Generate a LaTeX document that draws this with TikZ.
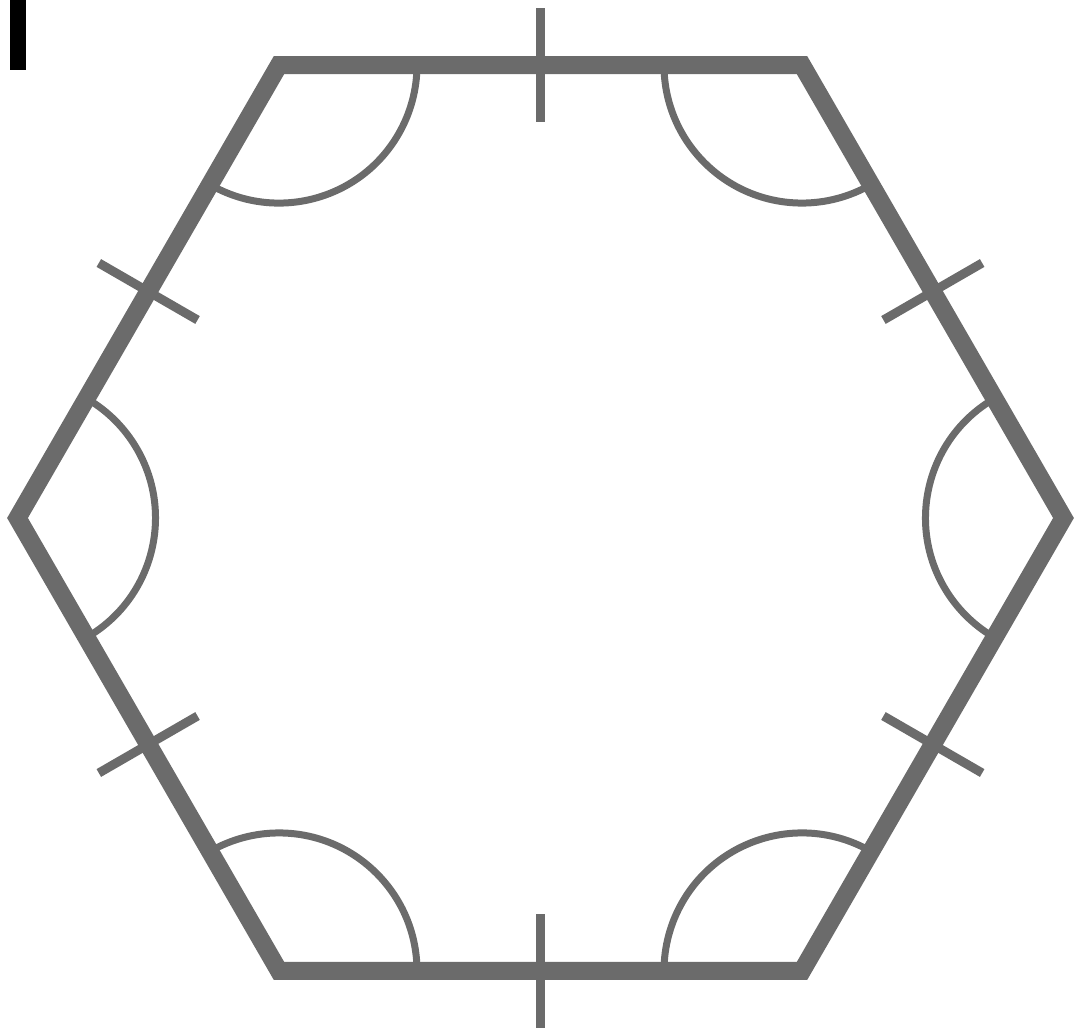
\documentclass[tikz,border=0pt]{standalone}
\definecolor{hexgray}{RGB}{107,107,107}
\tikzset{
  hexside/.style={draw=hexgray, line width=18pt, line join=miter},
  anglearc/.style={draw=hexgray, line width=7pt},
  tickmark/.style={draw=hexgray, line width=9pt},
}
\begin{document}
\begin{tikzpicture}[x=1pt,y=1pt]
  \useasboundingbox (-540.5,-511) rectangle (533.5,518);
  \clip (-540.5,-511) rectangle (533.5,518);
  % black bar at top-left
  \fill[black] (-530.5,448) rectangle (-514.5,518);
  % vertices
  \foreach \k in {0,...,5} {\coordinate (v\k) at ({60*\k}:523);}
  % angle arcs
  \foreach \a in {0,60,...,300} {
    \draw[anglearc] ([shift={(\a:523)}]{\a+120}:138) arc[start angle={\a+120}, end angle={\a+240}, radius=138];
  }
  % tick marks
  \foreach \a in {30,90,...,330} {
    \draw[tickmark] (\a:396) -- (\a:510);
  }
  % hexagon
  \draw[hexside] (v0) -- (v1) -- (v2) -- (v3) -- (v4) -- (v5) -- cycle;
\end{tikzpicture}
\end{document}
